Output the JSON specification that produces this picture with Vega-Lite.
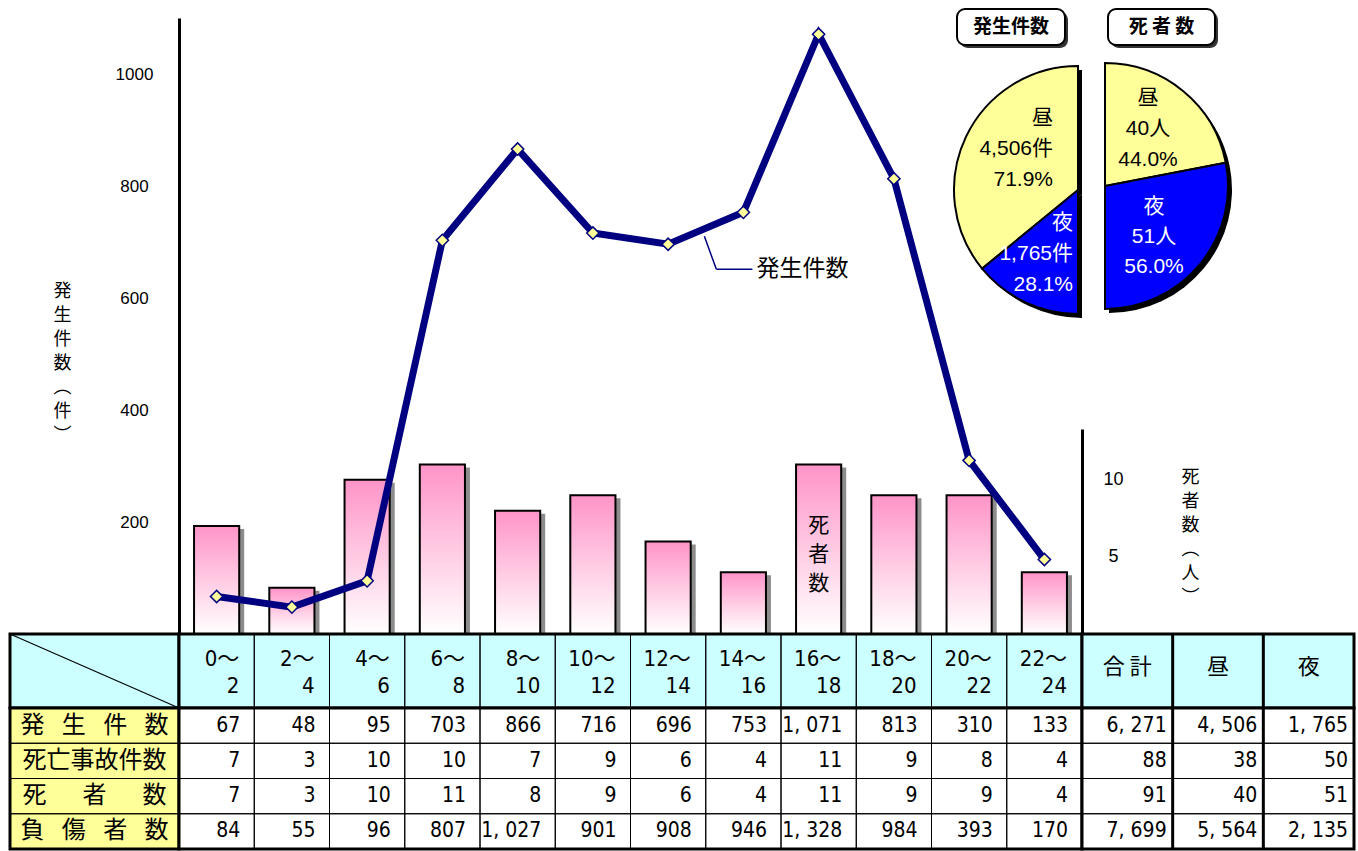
{
  "$schema": "https://vega.github.io/schema/vega-lite/v6.json",
  "padding": {"left": 7, "top": 8, "right": 4, "bottom": 1},
  "background": "white",
  "config": {
    "font": "Liberation Sans",
    "view": {"stroke": null},
    "axis": {"grid": false},
    "locale": {"number": {"decimal": ".", "thousands": ", ", "grouping": [3], "currency": ["", ""]}}
  },
  "datasets": {
    "hours": [
      {"hour": "0～2", "count": 67, "fatal": 7, "deaths": 7, "injured": 84},
      {"hour": "2～4", "count": 48, "fatal": 3, "deaths": 3, "injured": 55},
      {"hour": "4～6", "count": 95, "fatal": 10, "deaths": 10, "injured": 96},
      {"hour": "6～8", "count": 703, "fatal": 10, "deaths": 11, "injured": 807},
      {"hour": "8～10", "count": 866, "fatal": 7, "deaths": 8, "injured": 1027},
      {"hour": "10～12", "count": 716, "fatal": 9, "deaths": 9, "injured": 901},
      {"hour": "12～14", "count": 696, "fatal": 6, "deaths": 6, "injured": 908},
      {"hour": "14～16", "count": 753, "fatal": 4, "deaths": 4, "injured": 946},
      {"hour": "16～18", "count": 1071, "fatal": 11, "deaths": 11, "injured": 1328},
      {"hour": "18～20", "count": 813, "fatal": 9, "deaths": 9, "injured": 984},
      {"hour": "20～22", "count": 310, "fatal": 8, "deaths": 9, "injured": 393},
      {"hour": "22～24", "count": 133, "fatal": 4, "deaths": 4, "injured": 170}
    ],
    "totals": [
      {"col": "合計", "label": "合 計", "count": 6271, "fatal": 88, "deaths": 91, "injured": 7699},
      {"col": "昼", "label": "昼", "count": 4506, "fatal": 38, "deaths": 40, "injured": 5564},
      {"col": "夜", "label": "夜", "count": 1765, "fatal": 50, "deaths": 51, "injured": 2135}
    ],
    "rows": [
      {"key": "count", "label": "発\u2002 生\u2002 件\u2002 数"},
      {"key": "fatal", "label": "死亡事故件数"},
      {"key": "deaths", "label": "死\u3000\u2002者\u3000\u2002数"},
      {"key": "injured", "label": "負\u2002 傷\u2002 者\u2002 数"}
    ],
    "pies": [
      {"chart": "発生件数", "title": "発生件数", "part": "昼", "value": 4506, "label": ["昼", "4,506件", "71.9%"]},
      {"chart": "発生件数", "title": "発生件数", "part": "夜", "value": 1765, "label": ["夜", "1,765件", "28.1%"]},
      {"chart": "死者数", "title": "死 者 数", "part": "昼", "value": 40, "label": ["昼", "40人", "44.0%"]},
      {"chart": "死者数", "title": "死 者 数", "part": "夜", "value": 51, "label": ["夜", "51人", "56.0%"]}
    ]
  },
  "columns": 3,
  "spacing": 0,
  "bounds": "flush",
  "concat": [
    {
      "width": 169, "height": 616,
      "data": {"values": []},
      "mark": "point"
    },
    {
      "width": 903, "height": 616,
      "data": {"name": "hours"},
      "layer": [
        {
          "encoding": {
            "x": {"field": "hour", "type": "nominal", "scale": {"domain": ["0～2","2～4","4～6","6～8","8～10","10～12","12～14","14～16","16～18","18～20","20～22","22～24"], "paddingInner": 0.4, "paddingOuter": 0.2}, "axis": null},
            "y": {"field": "deaths", "type": "quantitative",
              "scale": {"domain": [0, 13.3], "range": [616, 411], "nice": false, "zero": false},
              "axis": {"orient": "right", "values": [5, 10], "ticks": false, "tickSize": 0, "domainColor": "black", "domainWidth": 3,
                "labelAlign": "center", "labelPadding": 31, "labelFont": "Liberation Sans", "labelFontSize": 18, "labelColor": "black",
                "title": ["死", "者", "数", "︵", "人", "︶"], "titleAngle": 0, "titleX": 108, "titleY": 450, "titleAlign": "center", "titleBaseline": "top",
                "titleFont": "Noto Sans CJK JP", "titleFontSize": 18, "titleFontWeight": "normal", "titleLineHeight": 24, "titleColor": "black"}}
          },
          "layer": [
            {"mark": {"type": "bar", "fill": "#000000", "opacity": 0.45, "xOffset": 5, "yOffset": 3}},
            {"mark": {"type": "bar", "stroke": "black", "strokeWidth": 2,
              "fill": {"gradient": "linear", "x1": 0, "y1": 0, "x2": 0, "y2": 1, "stops": [{"offset": 0, "color": "#ff94c8"}, {"offset": 0.55, "color": "#ffd0e6"}, {"offset": 1, "color": "#ffffff"}]}}},
            {"transform": [{"filter": "datum.hour === '16～18'"}],
             "mark": {"type": "text", "text": ["死", "者", "数"], "font": "Noto Sans CJK JP", "fontSize": 21, "lineHeight": 29, "baseline": "middle", "color": "black", "dy": 62},
             "encoding": {}}
          ]
        },
        {
          "encoding": {
            "x": {"field": "hour", "type": "nominal", "scale": {"domain": ["0～2","2～4","4～6","6～8","8～10","10～12","12～14","14～16","16～18","18～20","20～22","22～24"], "paddingInner": 0.4, "paddingOuter": 0.2}, "axis": null},
            "y": {"field": "count", "type": "quantitative",
              "scale": {"domain": [0, 1100], "nice": false},
              "axis": {"orient": "left", "values": [200, 400, 600, 800, 1000], "format": "d", "ticks": false, "tickSize": 0, "domainColor": "black", "domainWidth": 3,
                "labelAlign": "center", "labelPadding": 45, "labelFont": "Liberation Sans", "labelFontSize": 17, "labelColor": "black",
                "title": ["発", "生", "件", "数", "︵", "件", "︶"], "titleAngle": 0, "titleX": -117, "titleY": 264, "titleAlign": "center", "titleBaseline": "top",
                "titleFont": "Noto Sans CJK JP", "titleFontSize": 18, "titleFontWeight": "normal", "titleLineHeight": 24, "titleColor": "black"}}
          },
          "layer": [
            {"mark": {"type": "line", "stroke": "#000080", "strokeWidth": 7,
              "point": {"shape": "diamond", "filled": true, "fill": "#ffff99", "stroke": "#000080", "strokeWidth": 1.5, "size": 150, "opacity": 1}}},
            {"transform": [{"filter": "datum.hour === '14～16'"}],
             "mark": {"type": "rule", "stroke": "#000080", "strokeWidth": 1.5, "xOffset": -39, "x2Offset": -27, "yOffset": 24, "y2Offset": 57},
             "encoding": {"x": {"field": "hour", "type": "nominal", "bandPosition": 0.5}, "x2": {"field": "hour", "bandPosition": 0.5}, "y2": {"field": "count"}}},
            {"transform": [{"filter": "datum.hour === '14～16'"}],
             "mark": {"type": "rule", "stroke": "#000080", "strokeWidth": 1.5, "xOffset": -27, "x2Offset": 9, "yOffset": 57},
             "encoding": {"x": {"field": "hour", "type": "nominal", "bandPosition": 0.5}, "x2": {"field": "hour", "bandPosition": 0.5}}},
            {"transform": [{"filter": "datum.hour === '14～16'"}],
             "mark": {"type": "text", "text": "発生件数", "align": "left", "baseline": "middle", "dx": 13, "dy": 57, "font": "Noto Sans CJK JP", "fontSize": 23, "color": "black"}}
          ]
        }
      ],
      "resolve": {"scale": {"y": "independent"}}
    },
    {
      "width": 272, "height": 616,
      "data": {"name": "pies"},
      "encoding": {
        "x": {"field": "chart", "type": "nominal", "scale": {"type": "point", "domain": ["発生件数", "死者数"], "range": [-4, 23], "padding": 0}, "axis": null},
        "y": {"field": "chart", "type": "nominal", "scale": {"type": "point", "domain": ["発生件数", "死者数"], "range": [172, 168], "padding": 0}, "axis": null},
        "color": {"field": "part", "type": "nominal", "scale": {"domain": ["昼", "夜"], "range": ["#ffff99", "#0000ff"]}, "legend": null}
      },
      "layer": [
        {"transform": [{"filter": "datum.chart === '発生件数'"}],
         "mark": {"type": "arc", "radius": 124, "fill": "black", "xOffset": 4, "yOffset": 4},
         "encoding": {"theta": {"field": "value", "type": "quantitative", "stack": true, "scale": {"range": [3.14159265, 6.28318531], "nice": false, "zero": true}}, "order": {"field": "part", "sort": "ascending"}}},
        {"transform": [{"filter": "datum.chart === '発生件数'"}],
         "mark": {"type": "arc", "radius": 124, "stroke": "black", "strokeWidth": 2},
         "encoding": {"theta": {"field": "value", "type": "quantitative", "stack": true, "scale": {"range": [3.14159265, 6.28318531], "nice": false, "zero": true}}, "order": {"field": "part", "sort": "ascending"}}},
        {"transform": [{"filter": "datum.chart === '死者数'"}],
         "mark": {"type": "arc", "radius": 123, "fill": "black", "xOffset": 4, "yOffset": 4},
         "encoding": {"theta": {"field": "value", "type": "quantitative", "stack": true, "scale": {"range": [0, 3.14159265], "nice": false, "zero": true}}, "order": {"field": "part", "sort": "descending"}}},
        {"transform": [{"filter": "datum.chart === '死者数'"}],
         "mark": {"type": "arc", "radius": 123, "stroke": "black", "strokeWidth": 2},
         "encoding": {"theta": {"field": "value", "type": "quantitative", "stack": true, "scale": {"range": [0, 3.14159265], "nice": false, "zero": true}}, "order": {"field": "part", "sort": "descending"}}},
        {"transform": [{"filter": "datum.chart === '発生件数' && datum.part === '昼'"}],
         "mark": {"type": "text", "align": "right", "baseline": "middle", "dx": -25, "dy": -72, "font": "Liberation Sans, Noto Sans CJK JP", "fontSize": 21, "lineHeight": 31},
         "encoding": {"text": {"field": "label"}, "color": {"value": "black"}}},
        {"transform": [{"filter": "datum.chart === '発生件数' && datum.part === '夜'"}],
         "mark": {"type": "text", "align": "right", "baseline": "middle", "dx": -5, "dy": 33, "font": "Liberation Sans, Noto Sans CJK JP", "fontSize": 21, "lineHeight": 31},
         "encoding": {"text": {"field": "label"}, "color": {"value": "white"}}},
        {"transform": [{"filter": "datum.chart === '死者数' && datum.part === '昼'"}],
         "mark": {"type": "text", "align": "center", "baseline": "middle", "dx": 43, "dy": -88, "font": "Liberation Sans, Noto Sans CJK JP", "fontSize": 21, "lineHeight": 31},
         "encoding": {"text": {"field": "label"}, "color": {"value": "black"}}},
        {"transform": [{"filter": "datum.chart === '死者数' && datum.part === '夜'"}],
         "mark": {"type": "text", "align": "center", "baseline": "middle", "dx": 49, "dy": 21, "font": "Liberation Sans, Noto Sans CJK JP", "fontSize": 21, "lineHeight": 30},
         "encoding": {"text": {"field": "label"}, "color": {"value": "white"}}},
        {"transform": [{"filter": "datum.chart === '発生件数' && datum.part === '昼'"}],
         "mark": {"type": "rect", "width": 108, "height": 36, "cornerRadius": 8, "xOffset": -64, "yOffset": -160},
         "encoding": {"color": {"value": "#333333"}}},
        {"transform": [{"filter": "datum.chart === '発生件数' && datum.part === '昼'"}],
         "mark": {"type": "rect", "width": 108, "height": 36, "cornerRadius": 8, "stroke": "black", "strokeWidth": 2, "xOffset": -67, "yOffset": -163},
         "encoding": {"color": {"value": "white"}}},
        {"transform": [{"filter": "datum.chart === '死者数' && datum.part === '昼'"}],
         "mark": {"type": "rect", "width": 107, "height": 36, "cornerRadius": 8, "xOffset": 59.5, "yOffset": -156},
         "encoding": {"color": {"value": "#333333"}}},
        {"transform": [{"filter": "datum.chart === '死者数' && datum.part === '昼'"}],
         "mark": {"type": "rect", "width": 107, "height": 36, "cornerRadius": 8, "stroke": "black", "strokeWidth": 2, "xOffset": 56.5, "yOffset": -159},
         "encoding": {"color": {"value": "white"}}},
        {"transform": [{"filter": "datum.chart === '発生件数' && datum.part === '昼'"}],
         "mark": {"type": "text", "align": "center", "baseline": "middle", "dx": -67, "dy": -163, "font": "Noto Sans CJK JP", "fontSize": 19, "fontWeight": "bold"},
         "encoding": {"text": {"field": "title"}, "color": {"value": "black"}}},
        {"transform": [{"filter": "datum.chart === '死者数' && datum.part === '昼'"}],
         "mark": {"type": "text", "align": "center", "baseline": "middle", "dx": 56.5, "dy": -159, "font": "Noto Sans CJK JP", "fontSize": 19, "fontWeight": "bold"},
         "encoding": {"text": {"field": "title"}, "color": {"value": "black"}}}
      ],
      "resolve": {"scale": {"theta": "independent"}}
    },
    {
      "width": 169, "height": 74,
      "data": {"values": [{}]},
      "view": {"fill": "#ccffff", "stroke": "black", "strokeWidth": 3},
      "mark": {"type": "rule", "stroke": "black", "strokeWidth": 1.2},
      "encoding": {
        "x": {"datum": 0, "type": "quantitative", "scale": {"domain": [0, 1], "nice": false}, "axis": null},
        "x2": {"datum": 1},
        "y": {"datum": 1, "type": "quantitative", "scale": {"domain": [0, 1], "nice": false}, "axis": null},
        "y2": {"datum": 0}
      }
    },
    {
      "width": 903, "height": 74,
      "data": {"name": "hours"},
      "view": {"fill": "#ccffff", "stroke": "black", "strokeWidth": 3},
      "encoding": {
        "x": {"field": "hour", "type": "nominal", "scale": {"domain": ["0～2","2～4","4～6","6～8","8～10","10～12","12～14","14～16","16～18","18～20","20～22","22～24"], "padding": 0}, "axis": null}
      },
      "layer": [
        {"mark": {"type": "rect", "fillOpacity": 0, "stroke": "black", "strokeWidth": 1}},
        {"mark": {"type": "text", "align": "right", "baseline": "middle", "dx": -15, "dy": -12, "lineBreak": {"expr": "regexp('(?<=～)')"}, "lineHeight": 27,
          "font": "DejaVu Sans Condensed, Noto Sans CJK JP", "fontSize": 22, "color": "black"},
         "encoding": {"x": {"field": "hour", "type": "nominal", "bandPosition": 1}, "text": {"field": "hour"}}}
      ]
    },
    {
      "width": 272, "height": 74,
      "data": {"name": "totals"},
      "view": {"fill": "#ccffff", "stroke": "black", "strokeWidth": 3},
      "encoding": {
        "x": {"field": "col", "type": "nominal", "scale": {"domain": ["合計", "昼", "夜"], "padding": 0}, "axis": null}
      },
      "layer": [
        {"mark": {"type": "rect", "fillOpacity": 0, "stroke": "black", "strokeWidth": 1}},
        {"transform": [{"filter": "datum.col !== '合計'"}],
         "mark": {"type": "rule", "stroke": "black", "strokeWidth": 3},
         "encoding": {"x": {"field": "col", "type": "nominal", "bandPosition": 0}}},
        {"mark": {"type": "text", "align": "center", "baseline": "middle", "dy": -4, "font": "Noto Sans CJK JP", "fontSize": 22, "color": "black"},
         "encoding": {"text": {"field": "label"}}}
      ]
    },
    {
      "width": 169, "height": 141,
      "data": {"name": "rows"},
      "view": {"fill": "#ffff99", "stroke": "black", "strokeWidth": 3},
      "encoding": {
        "y": {"field": "key", "type": "nominal", "scale": {"domain": ["count", "fatal", "deaths", "injured"], "padding": 0}, "axis": null}
      },
      "layer": [
        {"mark": {"type": "rect", "fillOpacity": 0, "stroke": "black", "strokeWidth": 1}},
        {"mark": {"type": "text", "align": "center", "baseline": "middle", "font": "Noto Sans CJK JP", "fontSize": 24, "color": "black"},
         "encoding": {"text": {"field": "label"}}}
      ]
    },
    {
      "width": 903, "height": 141,
      "data": {"name": "hours"},
      "transform": [{"fold": ["count", "fatal", "deaths", "injured"], "as": ["key", "value"]}],
      "view": {"fill": "white", "stroke": "black", "strokeWidth": 3},
      "encoding": {
        "x": {"field": "hour", "type": "nominal", "scale": {"domain": ["0～2","2～4","4～6","6～8","8～10","10～12","12～14","14～16","16～18","18～20","20～22","22～24"], "padding": 0}, "axis": null},
        "y": {"field": "key", "type": "nominal", "scale": {"domain": ["count", "fatal", "deaths", "injured"], "padding": 0}, "axis": null}
      },
      "layer": [
        {"mark": {"type": "rect", "fillOpacity": 0, "stroke": "black", "strokeWidth": 1}},
        {"mark": {"type": "text", "align": "right", "baseline": "middle", "dx": -14, "font": "DejaVu Sans Condensed", "fontSize": 21, "color": "black"},
         "encoding": {"x": {"field": "hour", "type": "nominal", "bandPosition": 1}, "text": {"field": "value", "type": "quantitative", "format": ","}}}
      ]
    },
    {
      "width": 272, "height": 141,
      "data": {"name": "totals"},
      "transform": [{"fold": ["count", "fatal", "deaths", "injured"], "as": ["key", "value"]}],
      "view": {"fill": "white", "stroke": "black", "strokeWidth": 3},
      "encoding": {
        "x": {"field": "col", "type": "nominal", "scale": {"domain": ["合計", "昼", "夜"], "padding": 0}, "axis": null},
        "y": {"field": "key", "type": "nominal", "scale": {"domain": ["count", "fatal", "deaths", "injured"], "padding": 0}, "axis": null}
      },
      "layer": [
        {"mark": {"type": "rect", "fillOpacity": 0, "stroke": "black", "strokeWidth": 1}},
        {"transform": [{"filter": "datum.col !== '合計' && datum.key === 'count'"}],
         "mark": {"type": "rule", "stroke": "black", "strokeWidth": 3},
         "encoding": {"x": {"field": "col", "type": "nominal", "bandPosition": 0}, "y": null}},
        {"mark": {"type": "text", "align": "right", "baseline": "middle", "dx": -6, "font": "DejaVu Sans Condensed", "fontSize": 21, "color": "black"},
         "encoding": {"x": {"field": "col", "type": "nominal", "bandPosition": 1}, "text": {"field": "value", "type": "quantitative", "format": ","}}}
      ]
    }
  ]
}
